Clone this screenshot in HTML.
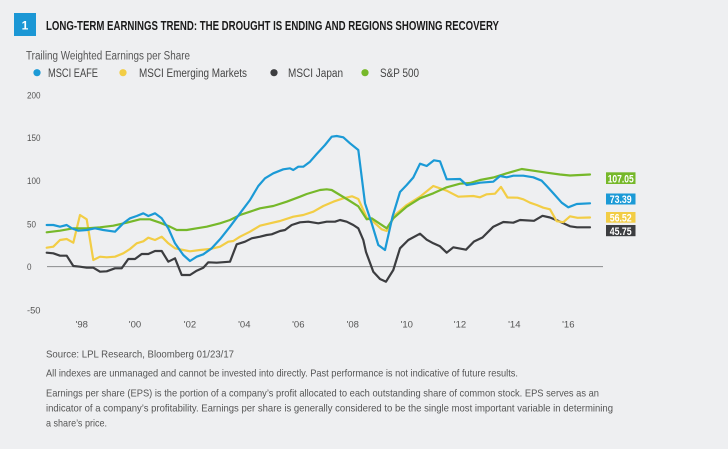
<!DOCTYPE html>
<html>
<head>
<meta charset="utf-8">
<style>
  html,body{margin:0;padding:0;background:#eeeff1;}
  svg{display:block;}
  text{font-family:"Liberation Sans Narrow","Liberation Sans",sans-serif;}
</style>
</head>
<body>
<svg width="728" height="449" viewBox="0 0 728 449" xmlns="http://www.w3.org/2000/svg">
  <rect x="0" y="0" width="728" height="449" fill="#eeeff1"/>

  <!-- Title -->
  <rect x="14" y="13" width="22" height="23" fill="#1b97d5"/>
  <text x="25" y="29.5" fill="#ffffff" font-size="12" font-weight="bold" text-anchor="middle">1</text>
  <text x="46" y="30" fill="#1a1a1a" font-size="12.5" font-weight="bold" textLength="453" lengthAdjust="spacingAndGlyphs">LONG-TERM EARNINGS TREND: THE DROUGHT IS ENDING AND REGIONS SHOWING RECOVERY</text>

  <!-- Subtitle -->
  <text x="26" y="59.5" fill="#555555" font-size="11.5" textLength="164" lengthAdjust="spacingAndGlyphs">Trailing Weighted Earnings per Share</text>

  <!-- Legend -->
  <circle cx="37" cy="72.7" r="3.6" fill="#1b9ad6"/>
  <text x="48" y="77" fill="#444444" font-size="11.5" textLength="50" lengthAdjust="spacingAndGlyphs">MSCI EAFE</text>
  <circle cx="123" cy="72.7" r="3.6" fill="#f2cd45"/>
  <text x="139" y="77" fill="#444444" font-size="11.5" textLength="108" lengthAdjust="spacingAndGlyphs">MSCI Emerging Markets</text>
  <circle cx="274" cy="72.7" r="3.6" fill="#3c3d40"/>
  <text x="288" y="77" fill="#444444" font-size="11.5" textLength="55" lengthAdjust="spacingAndGlyphs">MSCI Japan</text>
  <circle cx="365" cy="72.7" r="3.6" fill="#76b82a"/>
  <text x="380" y="77" fill="#444444" font-size="11.5" textLength="39" lengthAdjust="spacingAndGlyphs">S&amp;P 500</text>

  <!-- Y axis labels -->
  <g fill="#555555" font-size="9.5">
    <text x="27" y="98.4" textLength="13.5" lengthAdjust="spacingAndGlyphs">200</text>
    <text x="27" y="141.2" textLength="13.5" lengthAdjust="spacingAndGlyphs">150</text>
    <text x="27" y="184.2" textLength="13.5" lengthAdjust="spacingAndGlyphs">100</text>
    <text x="27" y="227.5" textLength="9" lengthAdjust="spacingAndGlyphs">50</text>
    <text x="27" y="270.2" textLength="4.5" lengthAdjust="spacingAndGlyphs">0</text>
    <text x="27" y="313.5" textLength="13.5" lengthAdjust="spacingAndGlyphs">-50</text>
  </g>

  <!-- X axis labels -->
  <g fill="#555555" font-size="9.5" text-anchor="middle">
    <text x="81.7" y="327.5">'98</text>
    <text x="135" y="327.5">'00</text>
    <text x="190" y="327.5">'02</text>
    <text x="244.3" y="327.5">'04</text>
    <text x="298.3" y="327.5">'06</text>
    <text x="352.7" y="327.5">'08</text>
    <text x="406.7" y="327.5">'10</text>
    <text x="460" y="327.5">'12</text>
    <text x="514.3" y="327.5">'14</text>
    <text x="568.3" y="327.5">'16</text>
  </g>

  <!-- Zero line -->
  <line x1="47" y1="266.6" x2="603" y2="266.6" stroke="#8a8b8d" stroke-width="1"/>

  <!-- Series -->
  <g fill="none" stroke-width="2.2" stroke-linejoin="round" stroke-linecap="round">
    <!-- Japan -->
    <polyline stroke="#3c3d40" points="46.7,252.7 53.3,253.3 60,255.7 66.7,255.7 73.3,266 80,266.7 86.7,267.7 93.3,267.7 100,271.7 106.7,271.3 115,268.3 121.7,268.3 128.3,259 135,259 141.7,254 148.3,254 155,251 161.7,251 168.3,261.7 175,258.3 181.7,275 190,275 196.7,270.7 203.3,267.7 208.3,262.3 216.7,262.7 230,261.7 236.7,244.3 245,241.7 251.7,238.3 260,236.7 266.7,235 271.7,234.3 280,231 285,230 291.7,225 300,222.3 308.3,221.7 318.3,223.3 326.7,221.7 335,221.7 340,220 346.7,221.7 353.3,225 358.3,228.3 363.3,240 366,252 373.3,271.7 380,279 386,281.7 393.3,270 400,248.3 408.3,240 420,233.7 426.7,239.7 433.3,243.3 440,246.3 446.7,252.7 453.3,247.3 466,249.7 474,241.5 482.5,237.5 493.3,226.7 503.3,222 513.3,222.7 520,220 534,220.8 542.5,215.8 550,217.5 559,221.2 570,226.3 577,227.3 590,227.3"/>
    <!-- Emerging Markets -->
    <polyline stroke="#f2cd45" points="46.7,247.7 53.3,246.7 60,240 66.7,239 73.3,242.7 80,215 86.7,219.3 93.3,260 100,256.7 106.7,257.3 115,256.7 123.3,253.3 130,249 136.7,243.3 143.3,241.3 148.3,237.7 155,240 161.7,236.7 168.3,243.3 175,248.3 183.3,250 190,251.3 200,250 210,249 220,246.7 228.3,241.7 233.3,241 240,236.7 250,231.7 260,225.7 270,223.3 280,221 293.3,216.7 303.3,215 313.3,211.7 323.3,206 333.3,201.7 343.3,198.3 352,196.3 358.3,199 366.7,217.5 373.3,221.7 381.7,229.3 386.7,231 395,215 406.7,205 420,196.7 433.3,186 446.7,190.7 458.3,196.7 473.3,196 480,197.3 486.7,194.3 495,193.7 501,186.9 507.5,197.5 517.5,197.7 523.3,199.3 530,202.7 536.7,205 543.3,207.7 550,209.3 556.7,221.2 563.3,222.2 570,216.3 577.5,217.8 590,217.5"/>
    <!-- S&P 500 -->
    <polyline stroke="#76b82a" points="46.7,232.3 60,230.7 73.3,228.3 86.7,228.3 100,227.3 113.3,225.7 126.7,222.7 140,219.3 150,219.3 160,222.7 170,226.7 176.7,230 186.7,230 196.7,228.3 206.7,226.7 220,223.3 230,220 240,215 250,211.7 260,208.3 273.3,206 286.7,201.7 300,196.7 306.7,194 320,190 326.7,189.3 331.7,190 340,195 348.3,200 358.3,206.3 366.7,219.3 371.7,218.3 386.7,228.3 393.3,218.3 406.7,206.7 420,198.3 433.3,193.3 446.7,187.3 460,183.7 470,183 480,180 493.3,177.5 506.7,173.3 521.7,169 533.3,170.7 546.7,172.7 560,174.5 570,175.5 590,174.5"/>
    <!-- EAFE -->
    <polyline stroke="#1b9ad6" points="46.7,225 53.3,225 60,226.7 66.7,225 71.7,228.3 78.3,230.7 86.7,230 95,228.3 103.3,230 115,231.7 123.3,223.3 130,218.3 136.7,216 143.3,213.3 148.3,216 155,213.3 161.7,218.3 168.3,228.3 175,243.3 183.3,255 190,261 196.7,256.7 203.3,254.3 211.7,248.3 220,239.3 230,226.7 240,213.3 250,200 258.3,186 265,178.3 273.3,173.3 283.3,169.3 290,168.3 293.3,170 298.3,166.7 303.3,166.7 310,161.7 316.7,154 325,145 331.7,136.7 336.7,136 343.3,137.3 350,143.3 358.3,150 365,203.3 371.7,223.3 378.3,245 385,250 392.5,216.7 400,192 406.7,185 413.3,177.5 420,163.7 426.7,166 434,160.3 440,161.3 446.7,179.3 460,179 466.7,185 473.3,184 480,182.7 493.3,181.7 500,176 506.7,177.3 513.3,175.7 523.3,175.7 533.3,177.3 541.7,180.7 546.7,186 553.3,193.3 561.7,202.7 568.3,207.3 576.7,204 590,203.3"/>
  </g>

  <!-- Value labels -->
  <g font-size="11" font-weight="bold" fill="#ffffff" text-anchor="middle">
    <rect x="606" y="172.3" width="29.5" height="11.7" fill="#76b82a"/>
    <text x="620.7" y="182.3" textLength="26" lengthAdjust="spacingAndGlyphs">107.05</text>
    <rect x="606" y="193.5" width="29.5" height="11" fill="#1b9ad6"/>
    <text x="620.7" y="203.2" textLength="22" lengthAdjust="spacingAndGlyphs">73.39</text>
    <rect x="606" y="212" width="29.5" height="10.7" fill="#f2cd45"/>
    <text x="620.7" y="221.5" textLength="22" lengthAdjust="spacingAndGlyphs">56.52</text>
    <rect x="606" y="225" width="29.5" height="11.2" fill="#3c3d40"/>
    <text x="620.7" y="234.8" textLength="22" lengthAdjust="spacingAndGlyphs">45.75</text>
  </g>

  <!-- Footnotes -->
  <g fill="#555555" font-size="10.5">
    <text x="46" y="357.5" textLength="188" lengthAdjust="spacingAndGlyphs">Source: LPL Research, Bloomberg   01/23/17</text>
    <text x="46" y="376.5" textLength="472" lengthAdjust="spacingAndGlyphs">All indexes are unmanaged and cannot be invested into directly. Past performance is not indicative of future results.</text>
    <text x="46" y="396.5" textLength="553" lengthAdjust="spacingAndGlyphs">Earnings per share (EPS) is the portion of a company’s profit allocated to each outstanding share of common stock. EPS serves as an</text>
    <text x="46" y="411.5" textLength="567" lengthAdjust="spacingAndGlyphs">indicator of a company’s profitability. Earnings per share is generally considered to be the single most important variable in determining</text>
    <text x="46" y="426.5" textLength="61" lengthAdjust="spacingAndGlyphs">a share’s price.</text>
  </g>
</svg>
</body>
</html>
